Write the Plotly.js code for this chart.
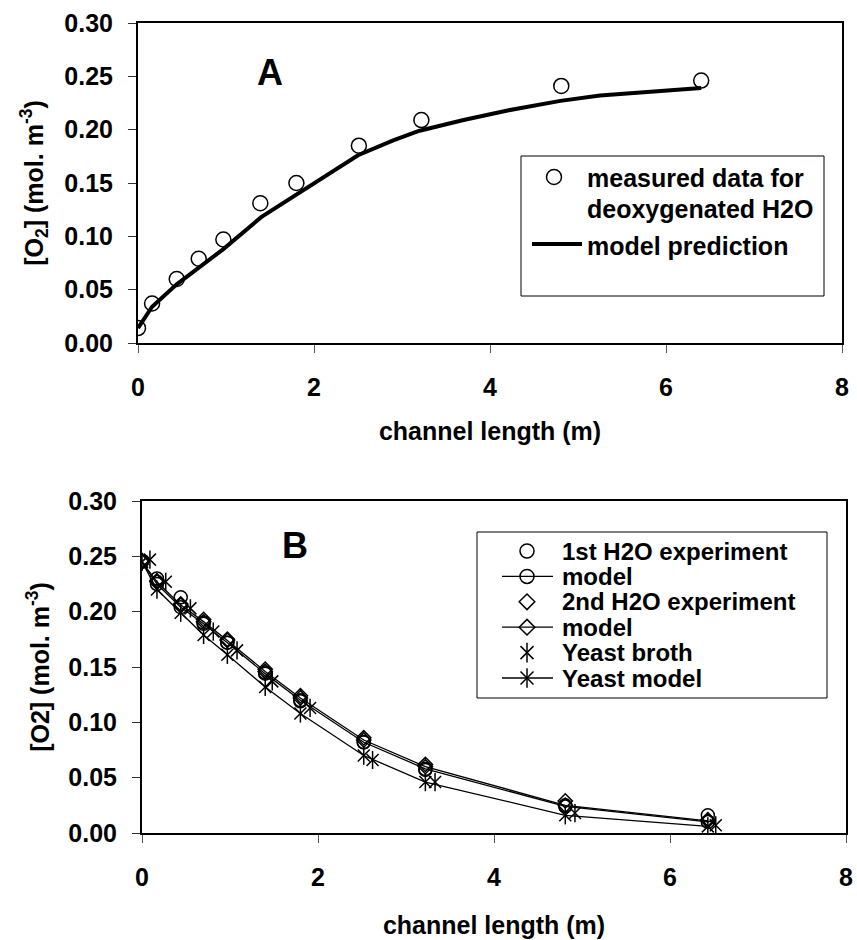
<!DOCTYPE html>
<html>
<head>
<meta charset="utf-8">
<script src="https://cdn.plot.ly/plotly-3.0.1.min.js"></script>
<style>
  html, body { margin: 0; padding: 0; background: #fff; }
  #chart { width: 857px; height: 940px; }
</style>
</head>
<body>
<div id="chart"></div>
<script>
// ---- Panel A: deoxygenated water, O2 uptake along the channel ----
const lenA      = [0, 0.16, 0.44, 0.69, 0.97, 1.39, 1.80, 2.51, 3.22, 4.81, 6.40];
const o2A       = [0.014, 0.037, 0.060, 0.079, 0.097, 0.131, 0.150, 0.185, 0.209, 0.241, 0.246];
const modelLenA = [0, 0.16, 0.44, 0.70, 0.97, 1.40, 1.80, 2.50, 2.90, 3.20, 3.70, 4.20, 4.80, 5.25, 6.40];
const modelO2A  = [0.014, 0.034, 0.055, 0.071, 0.088, 0.118, 0.139, 0.176, 0.190, 0.199, 0.209, 0.218, 0.227, 0.232, 0.239];

// ---- Panel B: oxygen depletion, water runs and yeast broth ----
const lenB        = [0, 0.17, 0.44, 0.70, 0.97, 1.40, 1.80, 2.52, 3.22, 4.81, 6.43];
const h2oExp1     = [0.246, 0.230, 0.213, 0.190, 0.172, 0.145, 0.119, 0.082, 0.057, 0.025, 0.016];
const h2oModel1   = [0.245, 0.225, 0.204, 0.189, 0.172, 0.144, 0.120, 0.082, 0.058, 0.024, 0.010];
const h2oExp2     = [0.246, 0.228, 0.207, 0.193, 0.175, 0.148, 0.124, 0.086, 0.062, 0.029, 0.012];
const h2oModel2   = [0.245, 0.227, 0.206, 0.191, 0.174, 0.146, 0.122, 0.084, 0.060, 0.025, 0.011];
const lenYeast    = [0.09, 0.27, 0.55, 0.81, 1.08, 1.48, 1.91, 2.62, 3.33, 4.92, 6.52];
const yeastBroth  = [0.247, 0.227, 0.203, 0.182, 0.165, 0.137, 0.113, 0.066, 0.046, 0.018, 0.007];
const yeastModel  = [0.245, 0.220, 0.199, 0.179, 0.161, 0.132, 0.108, 0.070, 0.046, 0.016, 0.006];

const xTicks = [0, 2, 4, 6, 8];
const xTickText = ['0', '2', '4', '6', '8'];

const legendLabelsA = ['measured data for', 'deoxygenated H2O', 'model prediction'];
const legendLabelsB = ['1st H2O experiment', 'model', '2nd H2O experiment', 'model', 'Yeast broth', 'Yeast model'];

// ---- figure geometry (pixels) ----
const W = 857, H = 940;
const fx = p => p / W;
const fy = p => 1 - p / H;

const FONT = 'Liberation Sans, Arial, Helvetica, sans-serif';
const bold = (size) => ({ family: FONT, size: size, color: '#000', weight: 700 });

const mk = (symbol, size) => ({ symbol: symbol, size: size, color: '#000', line: { color: '#000', width: 1.5 } });

const traces = [
  // panel A
  { x: modelLenA, y: modelO2A, xaxis: 'x', yaxis: 'y', mode: 'lines', name: 'model prediction',
    line: { color: '#000', width: 4 }, showlegend: false },
  { x: lenA, y: o2A, xaxis: 'x', yaxis: 'y', mode: 'markers', name: 'measured data for deoxygenated H2O',
    marker: mk('circle-open', 15), showlegend: false },

  // panel B: model curves
  { x: lenB, y: h2oModel1, xaxis: 'x2', yaxis: 'y2', mode: 'lines+markers', name: 'model',
    line: { color: '#000', width: 1.3 }, marker: mk('circle-open', 13), showlegend: false },
  { x: lenB, y: h2oModel2, xaxis: 'x2', yaxis: 'y2', mode: 'lines+markers', name: 'model',
    line: { color: '#000', width: 1.3 }, marker: mk('diamond-open', 11), showlegend: false },
  { x: lenB, y: yeastModel, xaxis: 'x2', yaxis: 'y2', mode: 'lines+markers', name: 'Yeast model',
    line: { color: '#000', width: 1.3 }, marker: mk('x-thin-open', 12), showlegend: false },
  { x: lenB, y: yeastModel, xaxis: 'x2', yaxis: 'y2', mode: 'markers', name: 'Yeast model',
    marker: mk('line-ns-open', 13), showlegend: false, hoverinfo: 'skip' },

  // panel B: measurements
  { x: lenB, y: h2oExp1, xaxis: 'x2', yaxis: 'y2', mode: 'markers', name: '1st H2O experiment',
    marker: mk('circle-open', 13), showlegend: false },
  { x: lenB, y: h2oExp2, xaxis: 'x2', yaxis: 'y2', mode: 'markers', name: '2nd H2O experiment',
    marker: mk('diamond-open', 11), showlegend: false },
  { x: lenYeast, y: yeastBroth, xaxis: 'x2', yaxis: 'y2', mode: 'markers', name: 'Yeast broth',
    marker: mk('x-thin-open', 12), showlegend: false },
  { x: lenYeast, y: yeastBroth, xaxis: 'x2', yaxis: 'y2', mode: 'markers', name: 'Yeast broth',
    marker: mk('line-ns-open', 13), showlegend: false, hoverinfo: 'skip' }
];

// ---- legend keys, drawn on a hidden pixel-unit overlay (x3/y3) ----
const rowB = i => 551 + i * 25.4;
const keyB = [
  { sym: 'circle-open',  size: 14, line: false },
  { sym: 'circle-open',  size: 14, line: true },
  { sym: 'diamond-open', size: 12, line: false },
  { sym: 'diamond-open', size: 12, line: true },
  { sym: 'x-thin-open',  size: 13, line: false },
  { sym: 'x-thin-open',  size: 13, line: true }
];
traces.push({ x: [554], y: [177], xaxis: 'x3', yaxis: 'y3', mode: 'markers',
  marker: mk('circle-open', 15), showlegend: false, hoverinfo: 'skip' });
keyB.forEach((k, i) => {
  traces.push({ x: [527], y: [rowB(i)], xaxis: 'x3', yaxis: 'y3', mode: 'markers',
    marker: mk(k.sym, k.size), showlegend: false, hoverinfo: 'skip' });
  if (k.sym === 'x-thin-open') {
    traces.push({ x: [527], y: [rowB(i)], xaxis: 'x3', yaxis: 'y3', mode: 'markers',
      marker: mk('line-ns-open', 14), showlegend: false, hoverinfo: 'skip' });
  }
});

const shapes = [
  // legend frames
  { type: 'rect', xref: 'x3', yref: 'y3', x0: 521, x1: 824, y0: 156, y1: 296, line: { color: '#000', width: 1 } },
  { type: 'rect', xref: 'x3', yref: 'y3', x0: 477, x1: 827, y0: 532, y1: 698, line: { color: '#000', width: 1 } },
  // legend line keys
  { type: 'line', xref: 'x3', yref: 'y3', x0: 532, x1: 582, y0: 244, y1: 244, line: { color: '#000', width: 4 } }
];
keyB.forEach((k, i) => { if (k.line) shapes.push(
  { type: 'line', xref: 'x3', yref: 'y3', x0: 502, x1: 553, y0: rowB(i), y1: rowB(i), line: { color: '#000', width: 1.3 } }
); });

const legendText = (text, x, y, size) => ({ text: text, xref: 'x3', yref: 'y3', x: x, y: y,
  xanchor: 'left', yanchor: 'middle', showarrow: false, font: bold(size), align: 'left' });

const annotations = [
  { text: 'A', xref: 'x3', yref: 'y3', x: 270, y: 72, showarrow: false, font: bold(36), xanchor: 'center', yanchor: 'middle' },
  { text: 'B', xref: 'x3', yref: 'y3', x: 295, y: 545, showarrow: false, font: bold(36), xanchor: 'center', yanchor: 'middle' },
  legendText(legendLabelsA[0], 585, 178, 25),
  legendText(legendLabelsA[1], 585, 209, 25),
  legendText(legendLabelsA[2], 585, 246, 25)
];
legendLabelsB.forEach((t, i) => annotations.push(legendText(t, 560, rowB(i), 24)));

const xAxisBase = {
  range: [0, 8], tickvals: xTicks, ticktext: xTickText, ticks: 'outside', ticklen: 8, tickwidth: 1,
  tickcolor: '#555', showline: true, linecolor: '#000', linewidth: 2, mirror: true,
  showgrid: false, zeroline: false, tickfont: bold(25), ticklabelstandoff: 13
};
const yAxisBase = {
  range: [0, 0.3], dtick: 0.05, tick0: 0, tickformat: '.2f', ticks: 'outside', ticklen: 8, tickwidth: 1,
  tickcolor: '#333', showline: true, linecolor: '#000', linewidth: 2, mirror: true,
  showgrid: false, zeroline: false, tickfont: bold(25), ticklabelstandoff: 10
};

const layout = {
  width: W, height: H,
  margin: { l: 0, r: 0, t: 0, b: 0 },
  paper_bgcolor: '#fff', plot_bgcolor: 'rgba(0,0,0,0)',
  showlegend: false,
  xaxis: Object.assign({}, xAxisBase, { domain: [fx(138), fx(842)], anchor: 'y',
    title: { text: 'channel length (m)', font: bold(25), standoff: 22 } }),
  yaxis: Object.assign({}, yAxisBase, { domain: [fy(343), fy(23)], anchor: 'x',
    title: { text: '[O<sub>2</sub>] (mol. m<sup>-3</sup>)', font: bold(25), standoff: 14 } }),
  xaxis2: Object.assign({}, xAxisBase, { domain: [fx(142), fx(846)], anchor: 'y2',
    title: { text: 'channel length (m)', font: bold(25), standoff: 26 } }),
  yaxis2: Object.assign({}, yAxisBase, { domain: [fy(833), fy(501)], anchor: 'x2',
    title: { text: '[O2] (mol. m<sup>-3</sup>)', font: bold(25), standoff: 12 } }),
  xaxis3: { domain: [0, 1], range: [0, W], visible: false, anchor: 'y3', fixedrange: true },
  yaxis3: { domain: [0, 1], range: [H, 0], visible: false, anchor: 'x3', fixedrange: true },
  shapes: shapes,
  annotations: annotations
};

Plotly.newPlot('chart', traces, layout, { staticPlot: true, displayModeBar: false });
</script>
</body>
</html>
